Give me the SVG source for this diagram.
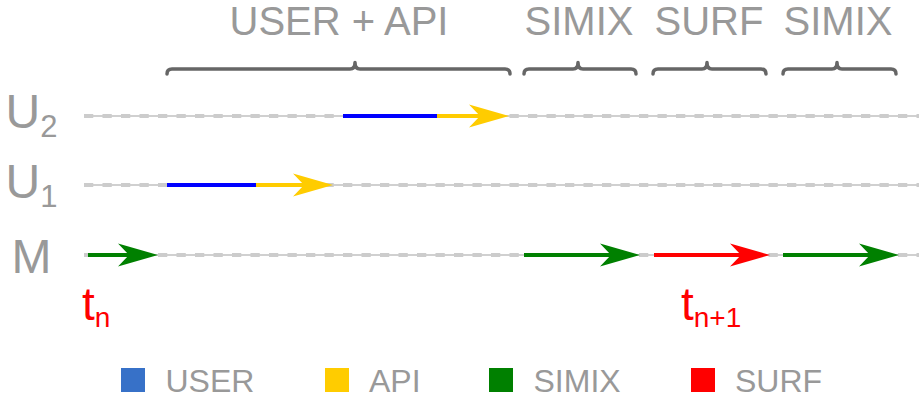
<svg xmlns="http://www.w3.org/2000/svg" width="919" height="400" viewBox="0 0 919 400">
<style>
.hd{font-family:"Liberation Sans",Arial,sans-serif;font-size:40px;fill:#999999;text-anchor:middle}
.lab{font-family:"Liberation Sans",Arial,sans-serif;font-size:48px;fill:#999999}
.sub{font-size:31px}
.tm{font-family:"Liberation Sans",Arial,sans-serif;font-size:46px;fill:#ff0000}
.tsub{font-size:28px}
.leg{font-family:"Liberation Sans",Arial,sans-serif;font-size:32px;fill:#999999}
.brace{fill:none;stroke:#666666;stroke-width:3.5;stroke-linecap:round;stroke-linejoin:round}
.thin{stroke:#c0c0c0;stroke-width:1.5}
.dash{stroke:#cccccc;stroke-width:4;stroke-dasharray:9.25 9.25}
.seg{stroke-width:4;fill:none}
</style>
<defs>
<marker id="ah-y" viewBox="0 0 40 24" markerUnits="userSpaceOnUse" markerWidth="40" markerHeight="24" refX="11" refY="12" orient="auto"><path d="M0,0.5 L40,12 L0,23.5 L11,12 Z" fill="#ffcc00"/></marker>
<marker id="ah-g" viewBox="0 0 40 24" markerUnits="userSpaceOnUse" markerWidth="40" markerHeight="24" refX="11" refY="12" orient="auto"><path d="M0,0.5 L40,12 L0,23.5 L11,12 Z" fill="#008000"/></marker>
<marker id="ah-r" viewBox="0 0 40 24" markerUnits="userSpaceOnUse" markerWidth="40" markerHeight="24" refX="11" refY="12" orient="auto"><path d="M0,0.5 L40,12 L0,23.5 L11,12 Z" fill="#ff0000"/></marker>
</defs>

<g id="headings">
<text class="hd" x="339" y="35">USER + API</text>
<text class="hd" x="579" y="35">SIMIX</text>
<text class="hd" x="709" y="35">SURF</text>
<text class="hd" x="838" y="35">SIMIX</text>
</g>

<g id="braces">
<path class="brace" d="M167,74 Q167,69 172,69 L350,69 Q355,69 355,62.5 Q355,69 360,69 L505,69 Q510,69 510,74"/>
<path class="brace" d="M524,74 Q524,69 529,69 L573,69 Q578,69 578,62.5 Q578,69 583,69 L631,69 Q636,69 636,74"/>
<path class="brace" d="M653,74 Q653,69 658,69 L702,69 Q707,69 707,62.5 Q707,69 712,69 L761,69 Q766,69 766,74"/>
<path class="brace" d="M783,74 Q783,69 788,69 L832,69 Q837,69 837,62.5 Q837,69 842,69 L891,69 Q896,69 896,74"/>
</g>

<g id="row-U2">
<text class="lab" x="5.5" y="128">U<tspan class="sub" dy="9">2</tspan></text>
<line class="thin" x1="84" y1="116" x2="919" y2="116"/>
<line class="dash" x1="84" y1="116" x2="919" y2="116"/>
</g>
<g id="row-U1">
<text class="lab" x="5.5" y="198">U<tspan class="sub" dy="9">1</tspan></text>
<line class="thin" x1="84" y1="185" x2="919" y2="185"/>
<line class="dash" x1="84" y1="185" x2="919" y2="185"/>
</g>
<g id="row-M">
<text class="lab" x="11.5" y="273">M</text>
<line class="thin" x1="84" y1="255" x2="919" y2="255"/>
<line class="dash" x1="84" y1="255" x2="919" y2="255"/>
</g>

<g id="connectors">
<line class="seg" stroke="#0000ff" x1="343" y1="116" x2="437" y2="116"/>
<line class="seg" stroke="#ffcc00" x1="437" y1="116" x2="480" y2="116" marker-end="url(#ah-y)"/>
<line class="seg" stroke="#0000ff" x1="167" y1="185" x2="256" y2="185"/>
<line class="seg" stroke="#ffcc00" x1="256" y1="185" x2="304" y2="185" marker-end="url(#ah-y)"/>
<line class="seg" stroke="#008000" x1="88" y1="255" x2="129" y2="255" marker-end="url(#ah-g)"/>
<line class="seg" stroke="#008000" x1="524" y1="255" x2="611" y2="255" marker-end="url(#ah-g)"/>
<line class="seg" stroke="#ff0000" x1="654" y1="255" x2="741" y2="255" marker-end="url(#ah-r)"/>
<line class="seg" stroke="#008000" x1="783" y1="255" x2="870" y2="255" marker-end="url(#ah-g)"/>
</g>

<g id="time-labels">
<text class="tm" x="82" y="320">t<tspan class="tsub" dy="7">n</tspan></text>
<text class="tm" x="681" y="320">t<tspan class="tsub" dy="7">n+1</tspan></text>
</g>

<g id="legend">
<rect x="121" y="368" width="24" height="24" fill="#3771c8"/>
<text class="leg" x="165.5" y="392">USER</text>
<rect x="325" y="368" width="24" height="24" fill="#ffcc00"/>
<text class="leg" x="369" y="392">API</text>
<rect x="489" y="368" width="24" height="24" fill="#008000"/>
<text class="leg" x="533.5" y="392">SIMIX</text>
<rect x="691" y="368" width="24" height="24" fill="#ff0000"/>
<text class="leg" x="735" y="392">SURF</text>
</g>
</svg>
